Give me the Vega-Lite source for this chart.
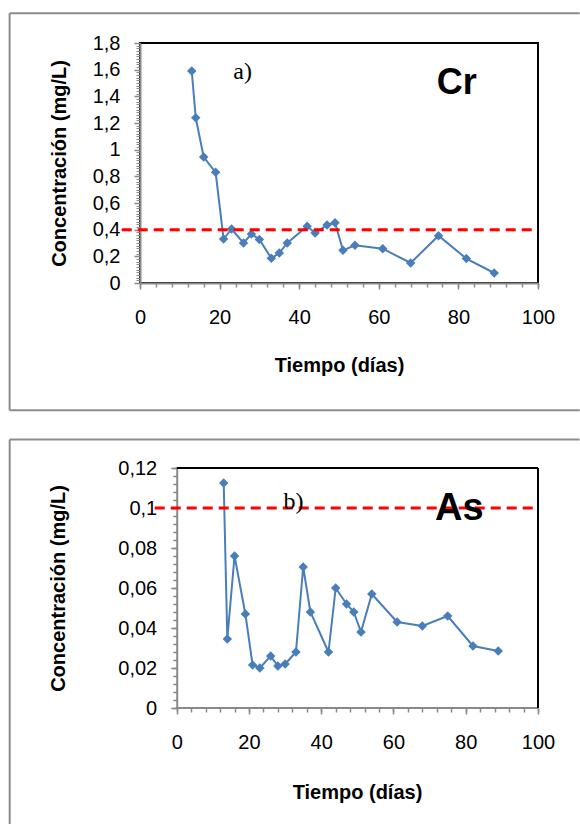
{
  "$schema": "https://vega.github.io/schema/vega-lite/v6.json",
  "padding": {"left": 7, "top": 11, "right": 0, "bottom": 0},
  "spacing": 25,
  "config": {
    "view": {"stroke": "black", "strokeWidth": 2},
    "font": "Liberation Sans",
    "axis": {"labelFont": "Liberation Sans", "titleFont": "Liberation Sans", "labelColor": "black", "titleColor": "black", "grid": false, "labelFlush": false, "labelOverlap": false}
  },
  "datasets": {
    "cr": [
      {"dia": 13, "conc": 1.59}, {"dia": 14, "conc": 1.24}, {"dia": 16, "conc": 0.945}, {"dia": 19, "conc": 0.83},
      {"dia": 21, "conc": 0.33}, {"dia": 23, "conc": 0.405}, {"dia": 26, "conc": 0.3}, {"dia": 28, "conc": 0.367},
      {"dia": 30, "conc": 0.327}, {"dia": 33, "conc": 0.185}, {"dia": 35, "conc": 0.225}, {"dia": 37, "conc": 0.3},
      {"dia": 42, "conc": 0.425}, {"dia": 44, "conc": 0.375}, {"dia": 47, "conc": 0.435}, {"dia": 49, "conc": 0.452},
      {"dia": 51, "conc": 0.245}, {"dia": 54, "conc": 0.283}, {"dia": 61, "conc": 0.257}, {"dia": 68, "conc": 0.15},
      {"dia": 75, "conc": 0.355}, {"dia": 82, "conc": 0.183}, {"dia": 89, "conc": 0.075}
    ],
    "as": [
      {"dia": 13, "conc": 0.1125}, {"dia": 14, "conc": 0.0345}, {"dia": 16, "conc": 0.076}, {"dia": 19, "conc": 0.047},
      {"dia": 21, "conc": 0.0215}, {"dia": 23, "conc": 0.02}, {"dia": 26, "conc": 0.026}, {"dia": 28, "conc": 0.021},
      {"dia": 30, "conc": 0.022}, {"dia": 33, "conc": 0.028}, {"dia": 35, "conc": 0.0705}, {"dia": 37, "conc": 0.048},
      {"dia": 42, "conc": 0.028}, {"dia": 44, "conc": 0.06}, {"dia": 47, "conc": 0.052}, {"dia": 49, "conc": 0.048},
      {"dia": 51, "conc": 0.038}, {"dia": 54, "conc": 0.057}, {"dia": 61, "conc": 0.043}, {"dia": 68, "conc": 0.041},
      {"dia": 75, "conc": 0.046}, {"dia": 82, "conc": 0.031}, {"dia": 89, "conc": 0.0285}
    ]
  },
  "vconcat": [
    {
      "width": 398,
      "height": 240,
      "resolve": {"axis": {"x": "independent", "y": "independent"}},
      "layer": [
        {
          "data": {"name": "cr"},
          "mark": {"type": "point", "opacity": 0},
          "encoding": {
            "x": {"field": "dia", "type": "quantitative", "scale": {"domain": [0, 100], "nice": false},
              "axis": {"orient": "bottom", "values": [0,4,8,12,16,20,24,28,32,36,40,44,48,52,56,60,64,68,72,76,80,84,88,92,96,100], "labels": false, "domain": false, "ticks": true, "tickSize": 4, "tickWidth": 1.5, "tickColor": "#898989", "title": null}},
            "y": {"field": "conc", "type": "quantitative", "scale": {"domain": [0, 1.8], "nice": false},
              "axis": {"orient": "left", "values": [0,0.02,0.04,0.06,0.08,0.1,0.12,0.14,0.16,0.18,0.2,0.22,0.24,0.26,0.28,0.3,0.32,0.34,0.36,0.38,0.4,0.42,0.44,0.46,0.48,0.5,0.52,0.54,0.56,0.58,0.6,0.62,0.64,0.66,0.68,0.7,0.72,0.74,0.76,0.78,0.8,0.82,0.84,0.86,0.88,0.9,0.92,0.94,0.96,0.98,1,1.02,1.04,1.06,1.08,1.1,1.12,1.14,1.16,1.18,1.2,1.22,1.24,1.26,1.28,1.3,1.32,1.34,1.36,1.38,1.4,1.42,1.44,1.46,1.48,1.5,1.52,1.54,1.56,1.58,1.6,1.62,1.64,1.66,1.68,1.7,1.72,1.74,1.76,1.78,1.8], "labels": false, "domain": false, "ticks": true, "tickSize": 4, "tickWidth": 1, "tickColor": "#898989", "title": null}}
          }
        },
        {
          "data": {"name": "cr"},
          "mark": {"type": "line", "color": "#4a7ebb", "strokeWidth": 2},
          "encoding": {
            "x": {"field": "dia", "type": "quantitative", "scale": {"domain": [0, 100], "nice": false},
              "axis": {"orient": "bottom", "values": [0,20,40,60,80,100], "domainColor": "#898989", "domainWidth": 2, "tickColor": "#898989", "tickWidth": 1.5, "tickSize": 6, "labelFontSize": 20, "labelPadding": 18, "title": "Tiempo (días)", "titleFontSize": 20, "titleFontWeight": "bold", "titleX": 199, "titleY": 82, "titleAlign": "center", "titleBaseline": "middle"}},
            "y": {"field": "conc", "type": "quantitative", "scale": {"domain": [0, 1.8], "nice": false},
              "axis": {"orient": "left", "values": [0,0.2,0.4,0.6,0.8,1,1.2,1.4,1.6,1.8], "labelExpr": "replace(toString(datum.value), '.', ',')", "domainColor": "#898989", "domainWidth": 2, "tickColor": "#898989", "tickWidth": 1.5, "tickSize": 6, "labelFontSize": 20, "labelPadding": 14, "title": "Concentración (mg/L)", "titleFontSize": 20, "titleFontWeight": "bold", "titleX": -81, "titleY": 120, "titleAngle": -90, "titleAlign": "center", "titleBaseline": "middle"}}
          }
        },
        {
          "data": {"name": "cr"},
          "mark": {"type": "point", "shape": "diamond", "size": 90, "filled": true, "color": "#4a7ebb", "opacity": 1},
          "encoding": {
            "x": {"field": "dia", "type": "quantitative", "axis": null},
            "y": {"field": "conc", "type": "quantitative", "axis": null}
          }
        },
        {
          "data": {"values": [{}]},
          "mark": {"type": "rule", "color": "#ff0000", "strokeWidth": 3, "strokeDash": [10, 6]},
          "encoding": {
            "x": {"datum": -4.6, "type": "quantitative", "axis": null},
            "x2": {"datum": 100},
            "y": {"datum": 0.4, "type": "quantitative", "axis": null}
          }
        },
        {
          "data": {"values": [{}]},
          "mark": {"type": "text", "text": "a)", "font": "Liberation Serif", "fontSize": 24, "color": "black"},
          "encoding": {
            "x": {"datum": 25.8, "type": "quantitative", "axis": null},
            "y": {"datum": 1.58, "type": "quantitative", "axis": null}
          }
        },
        {
          "data": {"values": [{}]},
          "mark": {"type": "text", "text": "Cr", "font": "Liberation Sans", "fontWeight": "bold", "fontSize": 36, "color": "black"},
          "encoding": {
            "x": {"datum": 79.6, "type": "quantitative", "axis": null},
            "y": {"datum": 1.5, "type": "quantitative", "axis": null}
          }
        },
        {
          "data": {"values": [{}]},
          "mark": {"type": "rule", "color": "#8c8c8c", "strokeWidth": 2},
          "encoding": {
            "x": {"datum": -32.76, "type": "quantitative", "axis": null},
            "y": {"datum": 2.024, "type": "quantitative", "axis": null},
            "y2": {"datum": -0.955}
          }
        },
        {
          "data": {"values": [{}]},
          "mark": {"type": "rule", "color": "#8c8c8c", "strokeWidth": 2},
          "encoding": {
            "x": {"datum": -32.76, "type": "quantitative", "axis": null},
            "x2": {"datum": 110.5},
            "y": {"datum": 2.024, "type": "quantitative", "axis": null}
          }
        },
        {
          "data": {"values": [{}]},
          "mark": {"type": "rule", "color": "#8c8c8c", "strokeWidth": 2},
          "encoding": {
            "x": {"datum": -32.76, "type": "quantitative", "axis": null},
            "x2": {"datum": 110.5},
            "y": {"datum": -0.955, "type": "quantitative", "axis": null}
          }
        }
      ]
    },
    {
      "width": 398,
      "height": 240,
      "view": {"stroke": null},
      "resolve": {"axis": {"x": "independent", "y": "independent"}},
      "layer": [
        {
          "data": {"name": "as"},
          "mark": {"type": "point", "opacity": 0},
          "encoding": {
            "x": {"field": "dia", "type": "quantitative", "scale": {"domain": [-10.17, 100], "nice": false, "zero": false},
              "axis": {"orient": "bottom", "values": [0,4,8,12,16,20,24,28,32,36,40,44,48,52,56,60,64,68,72,76,80,84,88,92,96,100], "labels": false, "domain": false, "ticks": true, "tickSize": 4, "tickWidth": 1.5, "tickColor": "#898989", "title": null}},
            "y": {"field": "conc", "type": "quantitative", "scale": {"domain": [0, 0.12], "nice": false},
              "axis": {"orient": "left", "offset": -36.74, "values": [0,0.004,0.008,0.012,0.016,0.02,0.024,0.028,0.032,0.036,0.04,0.044,0.048,0.052,0.056,0.06,0.064,0.068,0.072,0.076,0.08,0.084,0.088,0.092,0.096,0.1,0.104,0.108,0.112,0.116,0.12], "labels": false, "domain": false, "ticks": true, "tickSize": 4, "tickWidth": 1.5, "tickColor": "#898989", "title": null}}
          }
        },
        {
          "data": {"name": "as"},
          "mark": {"type": "line", "color": "#4a7ebb", "strokeWidth": 2},
          "encoding": {
            "x": {"field": "dia", "type": "quantitative", "scale": {"domain": [-10.17, 100], "nice": false, "zero": false},
              "axis": {"orient": "bottom", "values": [0,20,40,60,80,100], "domain": false, "tickColor": "#898989", "tickWidth": 1.5, "tickSize": 6, "labelFontSize": 20, "labelPadding": 18, "title": "Tiempo (días)", "titleFontSize": 20, "titleFontWeight": "bold", "titleX": 217, "titleY": 84, "titleAlign": "center", "titleBaseline": "middle"}},
            "y": {"field": "conc", "type": "quantitative", "scale": {"domain": [0, 0.12], "nice": false},
              "axis": {"orient": "left", "offset": -36.74, "values": [0,0.02,0.04,0.06,0.08,0.1,0.12], "labelExpr": "replace(toString(datum.value), '.', ',')", "domainColor": "#898989", "domainWidth": 2, "tickColor": "#898989", "tickWidth": 1.5, "tickSize": 6, "labelFontSize": 20, "labelPadding": 14, "title": "Concentración (mg/L)", "titleFontSize": 20, "titleFontWeight": "bold", "titleX": -118, "titleY": 120, "titleAngle": -90, "titleAlign": "center", "titleBaseline": "middle"}}
          }
        },
        {
          "data": {"name": "as"},
          "mark": {"type": "point", "shape": "diamond", "size": 90, "filled": true, "color": "#4a7ebb", "opacity": 1},
          "encoding": {
            "x": {"field": "dia", "type": "quantitative", "axis": null},
            "y": {"field": "conc", "type": "quantitative", "axis": null}
          }
        },
        {
          "data": {"values": [{}]},
          "mark": {"type": "rule", "color": "#898989", "strokeWidth": 2},
          "encoding": {
            "x": {"datum": 0, "type": "quantitative", "axis": null},
            "x2": {"datum": 100},
            "y": {"datum": 0, "type": "quantitative", "axis": null}
          }
        },
        {
          "data": {"values": [{}]},
          "mark": {"type": "rule", "color": "black", "strokeWidth": 2},
          "encoding": {
            "x": {"datum": 0, "type": "quantitative", "axis": null},
            "x2": {"datum": 100},
            "y": {"datum": 0.12, "type": "quantitative", "axis": null}
          }
        },
        {
          "data": {"values": [{}]},
          "mark": {"type": "rule", "color": "black", "strokeWidth": 2},
          "encoding": {
            "x": {"datum": 100, "type": "quantitative", "axis": null},
            "y": {"datum": 0, "type": "quantitative", "axis": null},
            "y2": {"datum": 0.12}
          }
        },
        {
          "data": {"values": [{}]},
          "mark": {"type": "rule", "color": "#ff0000", "strokeWidth": 3, "strokeDash": [10, 6]},
          "encoding": {
            "x": {"datum": -6.1, "type": "quantitative", "axis": null},
            "x2": {"datum": 100},
            "y": {"datum": 0.1, "type": "quantitative", "axis": null}
          }
        },
        {
          "data": {"values": [{}]},
          "mark": {"type": "text", "text": "b)", "font": "Liberation Serif", "fontSize": 24, "color": "black"},
          "encoding": {
            "x": {"datum": 32.3, "type": "quantitative", "axis": null},
            "y": {"datum": 0.1031, "type": "quantitative", "axis": null}
          }
        },
        {
          "data": {"values": [{}]},
          "mark": {"type": "text", "text": "As", "font": "Liberation Sans", "fontWeight": "bold", "fontSize": 38, "color": "black"},
          "encoding": {
            "x": {"datum": 78.2, "type": "quantitative", "axis": null},
            "y": {"datum": 0.0994, "type": "quantitative", "axis": null}
          }
        },
        {
          "data": {"values": [{}]},
          "mark": {"type": "rule", "color": "#8c8c8c", "strokeWidth": 2},
          "encoding": {
            "x": {"datum": -46.24, "type": "quantitative", "axis": null},
            "y": {"datum": 0.13425, "type": "quantitative", "axis": null},
            "y2": {"datum": -0.058}
          }
        },
        {
          "data": {"values": [{}]},
          "mark": {"type": "rule", "color": "#8c8c8c", "strokeWidth": 2},
          "encoding": {
            "x": {"datum": -46.24, "type": "quantitative", "axis": null},
            "x2": {"datum": 111.5},
            "y": {"datum": 0.13425, "type": "quantitative", "axis": null}
          }
        }
      ]
    }
  ]
}
